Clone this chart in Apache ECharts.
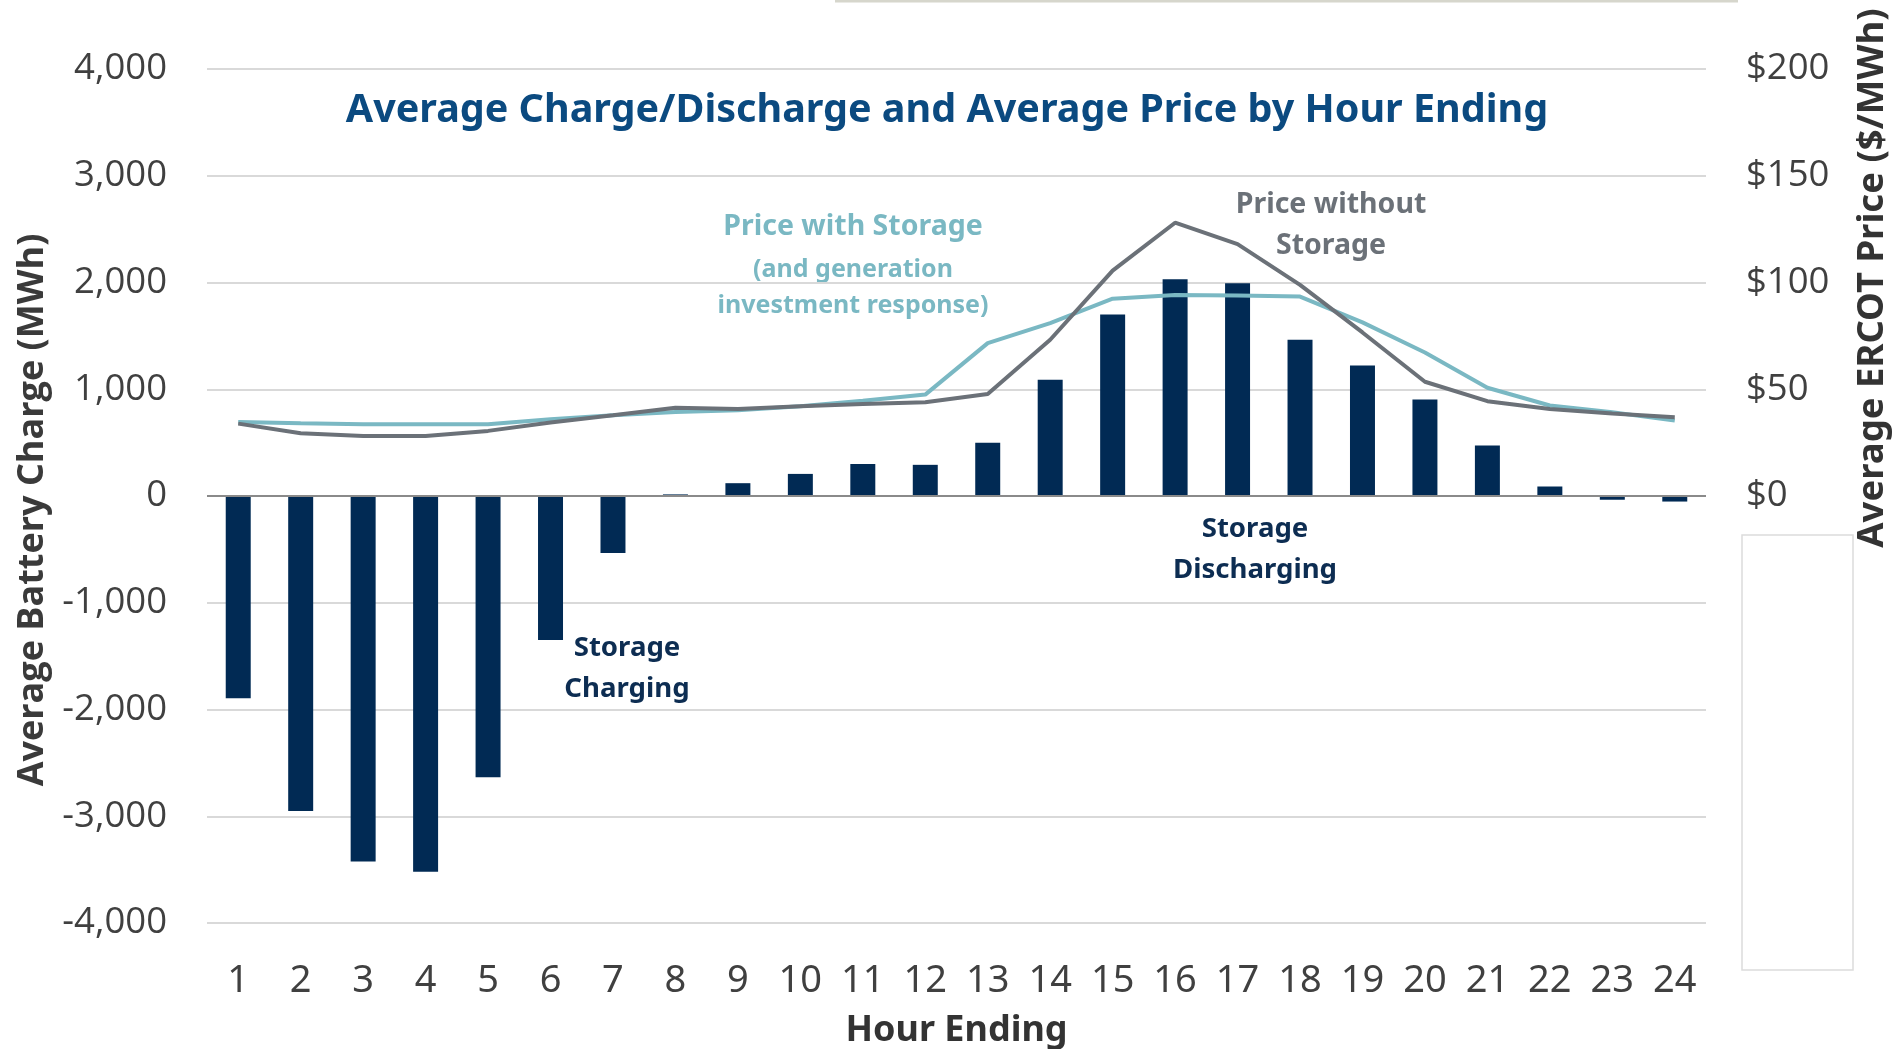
<!DOCTYPE html>
<html>
<head>
<meta charset="utf-8">
<script src="https://cdn.jsdelivr.net/npm/echarts@6/dist/echarts.min.js"></script>
<style>
  html, body { margin: 0; padding: 0; background: #fff; }
  #chart-one { width: 1897px; height: 1049px; }
</style>
</head>
<body>
<div id="chart-one"></div>
<script>
var hours = ['1', '2', '3', '4', '5', '6', '7', '8', '9', '10', '11', '12',
	'13', '14', '15', '16', '17', '18', '19', '20', '21', '22', '23', '24'];
// average battery charge (MWh), negative = charging
var batteryCharge = [-1895, -2950, -3425, -3520, -2635, -1350, -535, 15, 120, 207, 300, 292,
	500, 1088, 1700, 2030, 1993, 1463, 1223, 905, 472, 89, -35, -52];
// average ERCOT price ($/MWh)
var priceWithStorage = [34.7, 34.1, 33.6, 33.6, 33.6, 35.9, 37.8, 39.4, 40.2, 42, 44.6, 47.5,
	71.6, 81, 92.4, 94.2, 93.9, 93.4, 81.3, 67.2, 50.7, 42.4, 39.2, 35.3];
var priceWithoutStorage = [33.9, 29.4, 28.1, 28.1, 30.5, 34.4, 37.8, 41.3, 40.7, 42, 43.1, 43.9,
	47.8, 73.2, 105.6, 128, 118, 98.9, 76.6, 53.5, 44.4, 40.8, 38.6, 36.9];

var sans = "'Noto Sans', sans-serif";
var wide = "'Open Sans', 'Noto Sans', sans-serif";

var BarLineChart = function(){
	this.mychart = echarts.init(document.getElementById('chart-one'));

	this.initChart = function(){
		var option = {
			backgroundColor: '#fff',
			animation: false,
			title: {
				text: 'Average Charge/Discharge and Average Price by Hour Ending',
				left: 942,
				top: 86,
				textAlign: 'center',
				textStyle: {
					color: '#0b4a80',
					fontFamily: sans,
					fontWeight: 'bold',
					fontSize: 39.5
				}
			},
			grid: {
				left: 207,
				right: 191,
				top: 69,
				bottom: 126,
				outerBoundsMode: 'none'
			},
			xAxis: {
				type: 'category',
				data: hours,
				name: 'Hour Ending',
				nameLocation: 'middle',
				nameGap: 90,
				nameTextStyle: {
					color: '#333',
					fontFamily: sans,
					fontWeight: 'bold',
					fontSize: 36
				},
				axisLine: { show: false },
				axisTick: { show: false },
				axisLabel: {
					margin: 39,
					color: '#404040',
					fontFamily: sans,
					fontSize: 38
				}
			},
			yAxis: [{
				type: 'value',
				min: -4000,
				max: 4000,
				interval: 1000,
				axisLabel: {
					margin: 40,
					color: '#404040',
					fontFamily: wide,
					fontSize: 36.5,
					formatter: function(v){
						var s = Math.abs(v).toString().replace(/\B(?=(\d{3})+(?!\d))/g, ',');
						return (v < 0 ? '-' : '') + s;
					}
				},
				splitLine: { lineStyle: { color: '#d9d9d9', width: 2 } }
			}, {
				type: 'value',
				min: -200,
				max: 200,
				interval: 50,
				axisLabel: {
					margin: 40,
					color: '#404040',
					fontFamily: wide,
					fontSize: 36.5,
					formatter: function(v){
						return v < 0 ? '' : '$' + v;
					}
				},
				splitLine: { show: false }
			}],
			series: [{
				name: 'Average Battery Charge',
				type: 'bar',
				data: batteryCharge,
				barWidth: '40%',
				itemStyle: { color: '#012a54' },
				markLine: {
					silent: true,
					symbol: 'none',
					label: { show: false },
					lineStyle: { color: '#8a8a8a', width: 2, type: 'solid' },
					data: [{ yAxis: 0 }]
				}
			}, {
				name: 'Price with Storage',
				type: 'line',
				yAxisIndex: 1,
				data: priceWithStorage,
				symbol: 'none',
				lineStyle: { color: '#7ab8c3', width: 4 }
			}, {
				name: 'Price without Storage',
				type: 'line',
				yAxisIndex: 1,
				data: priceWithoutStorage,
				symbol: 'none',
				lineStyle: { color: '#6b7178', width: 4 }
			}],
			graphic: [
				{ type: 'text', x: 33, y: 510, rotation: Math.PI / 2, style: { text: 'Average Battery Charge (MWh)', fill: '#3a3a3a', font: 'bold 36px ' + wide, align: 'center', verticalAlign: 'middle' } },
				{ type: 'text', x: 1873, y: 278, rotation: Math.PI / 2, style: { text: 'Average ERCOT Price ($/MWh)', fill: '#333', font: 'bold 36.5px ' + sans, align: 'center', verticalAlign: 'middle' } },
				{ type: 'text', x: 853, y: 212, style: { text: 'Price with Storage', fill: '#7ab8c3', font: 'bold 28.5px ' + sans, align: 'center' } },
				{ type: 'text', x: 853, y: 252, style: { text: '(and generation\ninvestment response)', fill: '#7ab8c3', font: 'bold 25px ' + sans, align: 'center', lineHeight: 36 } },
				{ type: 'text', x: 1331, y: 184, style: { text: 'Price without\nStorage', fill: '#6b7178', font: 'bold 28.5px ' + sans, align: 'center', lineHeight: 41 } },
				{ type: 'text', x: 1255, y: 509, style: { text: 'Storage\nDischarging', fill: '#0d2d52', font: 'bold 27.6px ' + sans, align: 'center', lineHeight: 41 } },
				{ type: 'text', x: 627, y: 628, style: { text: 'Storage\nCharging', fill: '#0d2d52', font: 'bold 27.6px ' + sans, align: 'center', lineHeight: 41 } },
				{ type: 'rect', shape: { x: 1742, y: 535, width: 111, height: 435 }, style: { fill: 'none', stroke: '#dcdcdc', lineWidth: 1.5 } },
				{ type: 'line', shape: { x1: 835, y1: 1, x2: 1738, y2: 1 }, style: { stroke: '#d6d6cc', lineWidth: 3 } }
			]
		};

		this.mychart.setOption(option);
	}
}

var chart = new BarLineChart();
chart.initChart();
</script>
</body>
</html>
